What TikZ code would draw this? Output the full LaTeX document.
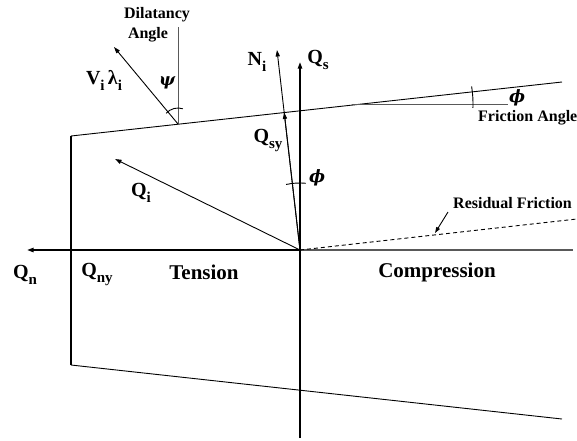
\documentclass[tikz,border=0pt]{standalone}
\usepackage{fontspec}
\setmainfont{Liberation Serif}
\newfontfamily\grk{DejaVu Serif}
\usetikzlibrary{arrows.meta}
\newcommand\lowsub[1]{\raisebox{-0.3em}{\fontsize{15}{15}\selectfont #1}}
\tikzset{
  lbl/.style={font=\fontsize{20}{20}\selectfont\bfseries, inner sep=0pt},
  greek/.style={font=\fontsize{17}{17}\selectfont\grk\bfseries\itshape, inner sep=0pt},
  big/.style={font=\fontsize{21}{21}\selectfont\bfseries, inner sep=0pt},
  small/.style={font=\fontsize{16}{16}\selectfont\bfseries, inner sep=0pt},
  tipped/.style={-{Triangle[length=6.5pt,width=4.2pt]}},
  axis/.style={line width=1.6pt},
  thinline/.style={line width=0.9pt},
  greyline/.style={line width=0.9pt, draw=black!65},
}
\begin{document}
\begin{tikzpicture}[x=1pt,y=-1pt]
\useasboundingbox (0,0) rectangle (577,440);
\clip (0,0) rectangle (577,440);
% coordinates
\coordinate (O) at (300,250);
\coordinate (QnEnd) at (27,250);
\coordinate (HrEnd) at (573,250);
\coordinate (QsEnd) at (300,62);
\coordinate (VbEnd) at (300,438);
\coordinate (TL) at (71,136);
\coordinate (TR) at (562,82);
\coordinate (BL) at (71,365);
\coordinate (BR) at (562,419);
\coordinate (D) at (178,124);
\coordinate (Dtop) at (178,27);
\coordinate (Vtip) at (114,47);
\coordinate (Nitip) at (277,50);
\coordinate (Qsytip) at (284.2,112.4);
\coordinate (Qitip) at (115,159);
\coordinate (Rend) at (600,216.4);
\coordinate (Ra) at (448,212);
\coordinate (Rb) at (435,233);
\coordinate (F1) at (352,104);
\coordinate (F2) at (508,104);
\coordinate (FC) at (361,104);
% axes
\draw[axis, tipped] (O) -- (QnEnd);
\draw[greyline, line width=1.3pt] (O) -- (HrEnd);
\draw[axis, tipped] (VbEnd) -- (QsEnd);
% yield surface
\draw[axis] (TL) -- (BL);
\draw[thinline] (TL) -- (TR);
\draw[thinline] (BL) -- (BR);
% dilatancy
\draw[greyline] (D) -- (Dtop);
\draw[thinline, tipped] (D) -- (Vtip);
\draw[thinline] ([shift={(-72:16)}]D) arc[start angle=-72, end angle=-138, radius=16];
% normal and Qsy
\draw[thinline, tipped] (O) -- (Nitip);
\draw[thinline, tipped] (O) -- (Qsytip);
\draw[thinline] ([shift={(-85:67)}]O) arc[start angle=-85, end angle=-102, radius=67];
% Qi
\draw[thinline, tipped] (O) -- (Qitip);
% friction angle
\draw[greyline] (F1) -- (F2);
\draw[thinline] ([shift={(2:112)}]FC) arc[start angle=2, end angle=-9, radius=112];
% residual friction
\draw[thinline, dash pattern=on 4pt off 3pt] (O) -- (Rend);
\draw[thinline, -{Triangle[length=6pt,width=4pt]}] (Ra) -- (Rb);
% labels
\node[small] (dil) at (157,15) {Dilatancy};
\node[small] (ang) at (148,35) {Angle};
\node[lbl] (vl) at (104,80) {V\lowsub{i}\,λ\lowsub{i}};
\node[greek] (psi) at (167,83) {ψ};
\node[lbl] (ni) at (257,62) {N\lowsub{i}};
\node[lbl] (qs) at (318,60) {Q\lowsub{s}};
\node[lbl] (qsy) at (268,140) {Q\lowsub{sy}};
\node[greek] (phia) at (317,178) {ϕ};
\node[lbl] (qi) at (141,193) {Q\lowsub{i}};
\node[greek] (phib) at (517,98) {ϕ};
\node[small, anchor=west] (fa) at (478,118) {Friction Angle};
\node[small, anchor=west] (rf) at (453,203) {Residual Friction};
\node[lbl] (qn) at (25,275) {Q\lowsub{n}};
\node[lbl] (qny) at (97,274) {Q\lowsub{ny}};
\node[big] (ten) at (204,272) {Tension};
\node[big] (comp) at (437,272) {Compression};
\end{tikzpicture}
\end{document}
